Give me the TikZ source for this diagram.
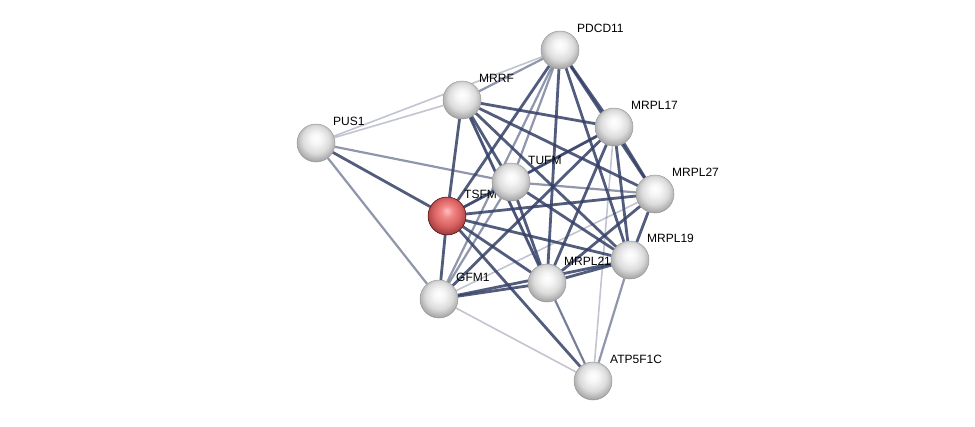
\documentclass[tikz,border=0pt]{standalone}
\usepackage{fontspec}
\setmainfont{Liberation Sans}
\pgfdeclarelayer{behind}
\pgfdeclarelayer{names}
\pgfsetlayers{behind,names,main}
\definecolor{edgeblue}{RGB}{52,63,102}
\pgfdeclareradialshading{whiteball}{\pgfpoint{0bp}{7bp}}{%
  color(0bp)=(white); color(8bp)=(white!96!black); color(18bp)=(white!86!black);
  color(26bp)=(white!68!black); color(31bp)=(white!45!black); color(50bp)=(white!45!black)}
\pgfdeclareradialshading{redball}{\pgfpoint{0bp}{7bp}}{%
  color(0bp)=(red!25!white); color(8bp)=(red!45!white!95!black); color(18bp)=(red!55!white!85!black);
  color(26bp)=(red!60!white!65!black); color(31bp)=(red!60!white!40!black); color(50bp)=(red!60!white!40!black)}
\tikzset{
  protein/.style={circle, minimum size=38pt, inner sep=0pt, draw=gray!80, line width=0.5pt,
    shading=whiteball},
  query/.style={protein, draw=red!30!black, shading=redball},
  tag/.style={anchor=west, inner sep=0pt, font=\fontsize{12}{13}\selectfont},
  strong/.style={draw=edgeblue, line width=2.8pt, opacity=0.85},
  medium/.style={draw=edgeblue, line width=2.2pt, opacity=0.55},
  weak/.style={draw=edgeblue, line width=1.6pt, opacity=0.3},
}

\begin{document}
\begin{tikzpicture}[x=1pt,y=-1pt]
\useasboundingbox (0,0) rectangle (975,426);
\def\dx{17}
\def\dy{-22}
%%%proteins
\node[protein] (PDCD11)  at (560,50)  {};
\node[protein] (MRRF)    at (462,100) {};
\node[protein] (PUS1)    at (316,143) {};
\node[protein] (MRPL17)  at (614,127) {};
\node[protein] (TUFM)    at (511,182) {};
\node[protein] (MRPL27)  at (655,194) {};
\node[query]   (TSFM)    at (447,216) {};
\node[protein] (MRPL19)  at (630,260) {};
\node[protein] (MRPL21)  at (547,283) {};
\node[protein] (GFM1)    at (439,299) {};
\node[protein] (ATP5F1C) at (593,381) {};

%%%names, under the balls
\begin{pgfonlayer}{names}
\foreach \p in {PDCD11,MRRF,PUS1,MRPL17,TUFM,MRPL27,TSFM,MRPL19,MRPL21,GFM1,ATP5F1C}
  \node[tag] (\p-name) at ([shift={(\dx,\dy)}]\p.center) {\p};
\end{pgfonlayer}

%%%interactions
\begin{pgfonlayer}{behind}
\foreach \a/\b in {PDCD11/MRPL17,PDCD11/MRPL27,PDCD11/MRPL19,PDCD11/TSFM,PDCD11/MRPL21,
  MRRF/TSFM,MRRF/MRPL17,MRRF/MRPL27,MRRF/MRPL19,MRRF/TUFM,MRRF/MRPL21,
  TSFM/TUFM,TSFM/MRPL27,TSFM/MRPL19,TSFM/MRPL21,TSFM/GFM1,TSFM/ATP5F1C,TSFM/PUS1,
  TUFM/MRPL17,TUFM/MRPL19,TUFM/MRPL21,
  MRPL17/MRPL27,MRPL17/MRPL19,MRPL17/MRPL21,MRPL17/GFM1,
  MRPL27/MRPL19,MRPL27/MRPL21,MRPL19/MRPL21,MRPL19/GFM1,MRPL21/GFM1}
  \draw[strong] (\a) -- (\b);
\foreach \a/\b in {PDCD11/TUFM,PDCD11/MRRF,PDCD11/GFM1,TUFM/MRPL27,TUFM/GFM1,
  MRPL19/ATP5F1C,MRPL21/ATP5F1C,PUS1/GFM1,PUS1/TUFM,TSFM/MRPL17}
  \draw[medium] (\a) -- (\b);
\foreach \a/\b in {PUS1/MRRF,PUS1/PDCD11,MRPL27/GFM1,GFM1/ATP5F1C,MRPL17/ATP5F1C,MRRF/ATP5F1C}
  \draw[weak] (\a) -- (\b);
\end{pgfonlayer}
\end{tikzpicture}
\end{document}
